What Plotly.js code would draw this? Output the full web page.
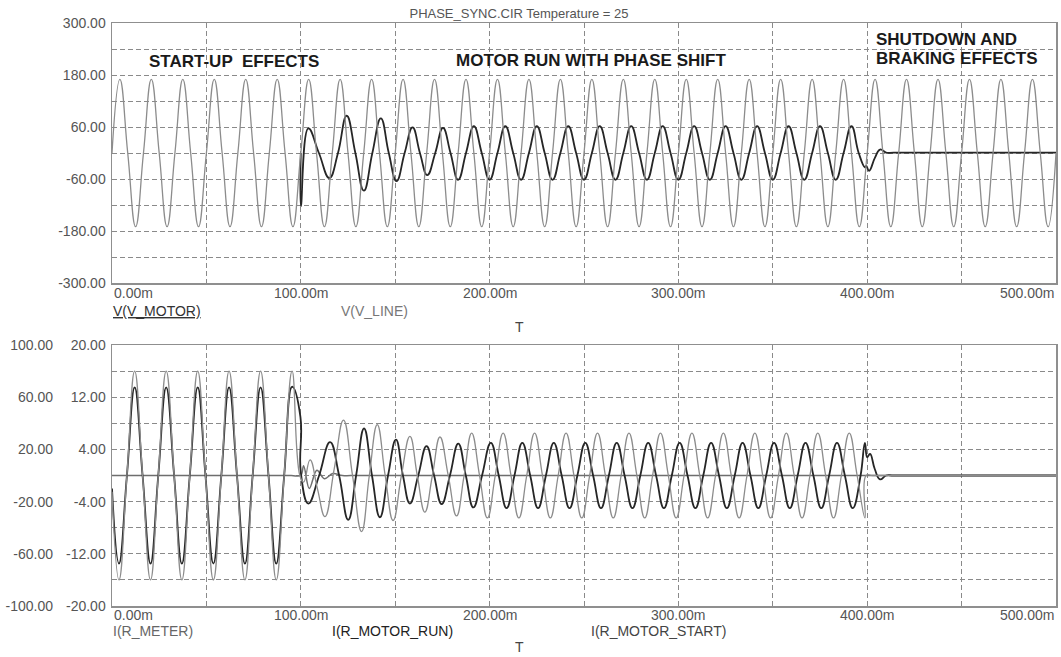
<!DOCTYPE html>
<html><head><meta charset="utf-8">
<script src="https://cdn.plot.ly/plotly-3.0.1.min.js"></script>
<style>html,body{margin:0;padding:0;background:#fff}#chart{width:1061px;height:657px}</style>
</head><body><div id="chart"></div>
<script>
// ---------- DATA (time in ms) ----------
// Top panel: V(V_LINE) (gray)
const vLineT = [0,4.17,8.33,12.5,16.67,20.83,25,29.17,33.33,37.5,41.67,45.83,50,54.17,58.33,62.5,66.67,70.83,75,79.17,83.33,87.5,91.67,95.83,100,104.17,108.33,112.5,116.67,120.83,125,129.17,133.33,137.5,141.67,145.83,150,154.17,158.33,162.5,166.67,170.83,175,179.17,183.33,187.5,191.67,195.83,200,204.17,208.33,212.5,216.67,220.83,225,229.17,233.33,237.5,241.67,245.83,250,254.17,258.33,262.5,266.67,270.83,275,279.17,283.33,287.5,291.67,295.83,300,304.17,308.33,312.5,316.67,320.83,325,329.17,333.33,337.5,341.67,345.83,350,354.17,358.33,362.5,366.67,370.83,375,379.17,383.33,387.5,391.67,395.83,400,404.17,408.33,412.5,416.67,420.83,425,429.17,433.33,437.5,441.67,445.83,450,454.17,458.33,462.5,466.67,470.83,475,479.17,483.33,487.5,491.67,495.83,500];
const vLineV = [0,170,0,-170,0,170,0,-170,0,170,0,-170,0,170,0,-170,0,170,0,-170,0,170,0,-170,0,170,0,-170,0,170,0,-170,0,170,0,-170,0,170,0,-170,0,170,0,-170,0,170,0,-170,0,170,0,-170,0,170,0,-170,0,170,0,-170,0,170,0,-170,0,170,0,-170,0,170,0,-170,0,170,0,-170,0,170,0,-170,0,170,0,-170,0,170,0,-170,0,170,0,-170,0,170,0,-170,0,170,0,-170,0,170,0,-170,0,170,0,-170,0,170,0,-170,0,170,0,-170,0,170,0,-170,0];

// Top panel: V(V_MOTOR) (dark) - follows V_LINE (hidden under it) until 100 ms
const vMotorT = [100,
  100.05,104,109.6,115.1,119.7,124.3,128.9,133.4,137.9,142.4,146.6,150.7,155,159.2,163.1,167,171.2,175.3,179.3,
  183.33,187.5,191.67,195.83,200,204.17,208.33,212.5,216.67,220.83,225,229.17,233.33,237.5,241.67,245.83,250,254.17,258.33,262.5,266.67,270.83,275,279.17,283.33,287.5,291.67,295.83,300,304.17,308.33,312.5,316.67,320.83,325,329.17,333.33,337.5,341.67,345.83,350,354.17,358.33,362.5,366.67,370.83,375,379.17,383.33,387.5,391.67,
  395.5,398.8,399.5,401,404,406.8,410,414,430,470,500];
const vMotorV = [0,
  -123,57,0,-58,0,86,0,-87,0,80,0,-65,0,59,0,-51,0,58,0,
  -62,0,62,0,-62,0,62,0,-62,0,62,0,-62,0,62,0,-62,0,62,0,-62,0,62,0,-62,0,62,0,-62,0,62,0,-62,0,62,0,-62,0,62,0,-62,0,62,0,-62,0,62,0,-62,0,62,
  0,-33,-30,-41,-12,8,1,1,1,1,1];

// Bottom panel: I(R_METER) (gray, left outer axis -100..100)
const iMeterT = [0,3.7,7.9,12,16.2,20.4,24.5,28.7,32.9,37,41.2,45.4,49.5,53.7,57.9,62,66.2,70.4,74.5,78.7,82.9,87,91.2,95.4,99.5,
  101.5,104.9,108.8,112.8,117.7,122.6,127.4,132.2,136.3,140.5,144.7,148.9,153.3,157.8,161.7,165.7,169.7,173.7,178.1,182.5,186.5,
  190.5,194.67,198.83,203,207.17,211.33,215.5,219.67,223.83,228,232.17,236.33,240.5,244.67,248.83,253,257.17,261.33,265.5,269.67,273.83,278,282.17,286.33,290.5,294.67,298.83,303,307.17,311.33,315.5,319.67,323.83,328,332.17,336.33,340.5,344.67,348.83,353,357.17,361.33,365.5,369.67,373.83,378,382.17,386.33,390.5,394.67,398.83,
  399.4,403,430,470,500];
const iMeterV = [-12.5,-80,0,80,0,-80,0,80,0,-80,0,80,0,-80,0,80,0,-80,0,80,0,-80,0,80,0,
  -5,12,-10,-31.5,5,42.5,0,-43,0,39,0,-34.5,0,30,0,-28,0,29.5,0,-31,0,
  32.5,0,-32.5,0,32.5,0,-32.5,0,32.5,0,-32.5,0,32.5,0,-32.5,0,32.5,0,-32.5,0,32.5,0,-32.5,0,32.5,0,-32.5,0,32.5,0,-32.5,0,32.5,0,-32.5,0,32.5,0,-32.5,0,32.5,0,-32.5,0,32.5,0,-32.5,0,32.5,0,-32.5,
  0,0,0,0,0];

// Bottom panel: I(R_MOTOR_RUN) (dark, inner axis -20..20)
const iRunT = [0,3.7,7.9,12,16.2,20.4,24.5,28.7,32.9,37,41.2,45.4,49.5,53.7,57.9,62,66.2,70.4,74.5,78.7,82.9,87,91.2,95.4,
  99.8,100,104,109.7,115.5,120.3,125.1,129.3,133.5,137.7,141.9,146.2,150.4,154.1,157.8,162.2,166.6,170.6,174.6,179,183.4,187.4,191.4,196,
  200.67,204.83,209,213.17,217.33,221.5,225.67,229.83,234,238.17,242.33,246.5,250.67,254.83,259,263.17,267.33,271.5,275.67,279.83,284,288.17,292.33,296.5,300.67,304.83,309,313.17,317.33,321.5,325.67,329.83,334,338.17,342.33,346.5,350.67,354.83,359,363.17,367.33,371.5,375.67,379.83,384,388.17,392.33,396.5,
  398.8,400,401.5,404,406.8,410,414,430,470,500];
const iRunV = [-2,-13.5,0,13.5,0,-13.5,0,13.5,0,-13.5,0,13.5,0,-13.5,0,13.5,0,-13.5,0,13.5,0,-13.5,0,13.6,
  9,0.5,-4.3,0,5.1,0,-6.8,0,7.2,0,-6.4,0,5.5,0,-4.3,0,4.5,0,-4.4,0,4.9,0,-4.9,0,
  5,0,-5,0,5,0,-5,0,5,0,-5,0,5,0,-5,0,5,0,-5,0,5,0,-5,0,5,0,-5,0,5,0,-5,0,5,0,-5,0,5,0,-5,0,5,0,-5,0,5,0,-5,0,
  5,2.8,3.3,1,-0.6,0,0,0,0,0];

// Bottom panel: I(R_MOTOR_START) (medium gray, inner axis)
const iStartT = [0,40,80,95,100,101.5,104.5,108.5,112.5,117,122,130,200,300,400,500];
const iStartV = [0,0,0,0,0,1.5,-2,0.8,-0.5,0.3,0,0,0,0,0,0];

// Axis tick labels
const timeTicks = [0,50,100,150,200,250,300,350,400,450,500];
const timeLabels = ["0.00m","","100.00m","","200.00m","","300.00m","","400.00m","","500.00m"];
const vTicks = [-300,-240,-180,-120,-60,0,60,120,180,240,300];
const vLabels = ["-300.00","","-180.00","","-60.00","","60.00","","180.00","","300.00"];
const iTicks = [-20,-16,-12,-8,-4,0,4,8,12,16,20];
const iLabels = ["-20.00","","-12.00","","-4.00","","4.00","","12.00","","20.00"];
const meterTicks = [-100,-60,-20,20,60,100];
const meterLabels = ["-100.00","-60.00","-20.00","20.00","60.00","100.00"];

// ---------- STYLE ----------
const DARK = '#262626', GRAY = '#8c8c8c', MID = '#6e6e6e';
const FONT = 'Liberation Sans, Arial, sans-serif';
const gridStyle = {showgrid:true, gridcolor:'#8a8a8a', gridwidth:1, griddash:'5px,3px',
  showline:true, mirror:true, linecolor:'#8f8f8f', linewidth:1.5, zeroline:false, ticks:'',
  tickfont:{family:FONT, size:14, color:'#555'}};
const SM = 1.3;
const traces = [
  {x:vMotorT, y:vMotorV, xaxis:'x', yaxis:'y', mode:'lines', line:{color:DARK, width:1.8, shape:'spline', smoothing:SM}, name:'V(V_MOTOR)'},
  {x:vLineT, y:vLineV, xaxis:'x', yaxis:'y', mode:'lines', line:{color:GRAY, width:1.3, shape:'spline', smoothing:SM}, name:'V(V_LINE)'},
  {x:iStartT, y:iStartV, xaxis:'x2', yaxis:'y2', mode:'lines', line:{color:MID, width:1.5, shape:'spline', smoothing:1}, name:'I(R_MOTOR_START)'},
  {x:iMeterT, y:iMeterV, xaxis:'x2', yaxis:'y3', mode:'lines', line:{color:GRAY, width:1.3, shape:'spline', smoothing:SM}, name:'I(R_METER)'},
  {x:iRunT, y:iRunV, xaxis:'x2', yaxis:'y2', mode:'lines', line:{color:DARK, width:1.8, shape:'spline', smoothing:SM}, name:'I(R_MOTOR_RUN)'}
];

function px2x(px){return (px-112)/944;}
function py2y(py){return (606-py)/583;}

const annotations = [];
[[293,'x'],[615,'x2']].forEach(([py,xr])=>{
  timeTicks.forEach((t,i)=>{
    if(!timeLabels[i]) return;
    annotations.push({x:t, xref:xr, y:py2y(py), yref:'paper', text:timeLabels[i], showarrow:false,
      xanchor: i===0?'left':(i===timeTicks.length-1?'right':'center'), yanchor:'middle',
      font:{family:FONT,size:14,color:'#555'}});
  });
});
function lab(text, px, py, anchor, color, extra){
  annotations.push(Object.assign({x:px2x(px), xref:'paper', y:py2y(py), yref:'paper', text:text, showarrow:false,
    xanchor:anchor, yanchor:'middle', font:{family:FONT, size:14, color:color}}, extra||{}));
}
lab('<u>V(V_MOTOR)</u>', 111, 311, 'left', '#333');
lab('V(V_LINE)', 339, 311, 'left', '#777');
lab('T', 519, 327, 'center', '#444');
lab('I(R_METER)', 111, 631, 'left', '#666');
lab('I(R_MOTOR_RUN)', 330, 631, 'left', '#222');
lab('I(R_MOTOR_START)', 589, 631, 'left', '#444');
lab('T', 519, 647, 'center', '#444');
const bold = {family:FONT, size:17, color:'#1a1a1a', weight:700};
lab('<b>START-UP  EFFECTS</b>', 147, 61, 'left', '#1a1a1a', {font:bold});
lab('<b>MOTOR RUN WITH PHASE SHIFT</b>', 454, 60, 'left', '#1a1a1a', {font:bold});
lab('<b>SHUTDOWN AND</b>', 874, 39, 'left', '#1a1a1a', {font:bold});
lab('<b>BRAKING EFFECTS</b>', 874, 58, 'left', '#1a1a1a', {font:bold});

const layout = {
  width:1061, height:657, paper_bgcolor:'#fff', plot_bgcolor:'#fff', showlegend:false,
  margin:{l:112, r:5, t:23, b:51},
  title:{text:'PHASE_SYNC.CIR Temperature = 25', x:519/1061, xref:'container', xanchor:'center',
    y:1-13/657, yref:'container', yanchor:'middle', font:{family:FONT, size:13, color:'#555'}},
  xaxis: Object.assign({}, gridStyle, {domain:[0,1], anchor:'y', range:[0,500], tickvals:timeTicks, showticklabels:false}),
  xaxis2: Object.assign({}, gridStyle, {domain:[0,1], anchor:'y2', range:[0,500], tickvals:timeTicks, showticklabels:false}),
  yaxis: Object.assign({}, gridStyle, {domain:[1-260/583,1], anchor:'x', range:[-300,300], tickvals:vTicks, ticktext:vLabels, ticklabelstandoff:2}),
  yaxis2: Object.assign({}, gridStyle, {domain:[0,261/583], anchor:'x2', range:[-20,20], tickvals:iTicks, ticktext:iLabels, ticklabelstandoff:2}),
  yaxis3: {overlaying:'y2', anchor:'x2', side:'left', range:[-100,100], tickvals:meterTicks, ticktext:meterLabels,
    showgrid:false, zeroline:false, showline:false, ticks:'', ticklabelstandoff:58,
    tickfont:{family:FONT, size:14, color:'#555'}},
  annotations: annotations
};
Plotly.newPlot('chart', traces, layout, {displayModeBar:false, staticPlot:true});
</script></body></html>
